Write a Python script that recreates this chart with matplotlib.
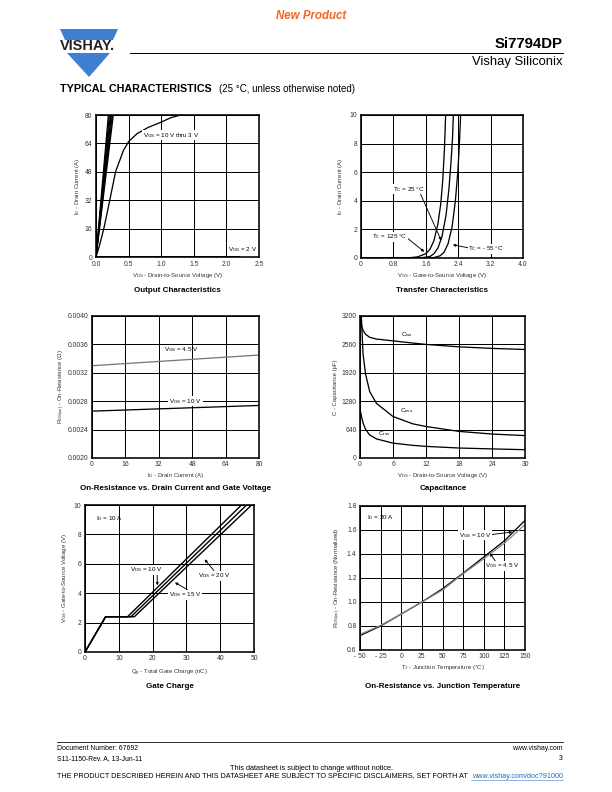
import matplotlib
matplotlib.use("Agg")
import matplotlib.pyplot as plt
from matplotlib.patches import Polygon
from matplotlib.lines import Line2D

plt.rcParams['font.family'] = ['Liberation Sans', 'DejaVu Sans']
plt.rcParams['mathtext.fontset'] = 'custom'
plt.rcParams['mathtext.rm'] = 'Liberation Sans'
plt.rcParams['mathtext.it'] = 'Liberation Sans:italic'

W, H = 612, 792

# ---- data ----
# output characteristics
steep_vds_end = [0.19, 0.205, 0.22, 0.235, 0.25, 0.265]
steep_id = [0, 80]
vds_mid = [0, 0.05, 0.12, 0.2, 0.3, 0.42, 0.5, 0.63, 0.8, 1.0, 1.15, 1.3]
id_mid = [0, 6, 16, 30, 48, 60, 65, 69.5, 73, 76, 78.5, 80]
vds_2v = [0, 2.2]
id_2v = [0.3, 0.3]

# transfer characteristics
vgs_125 = [0, 0.8, 1.2, 1.4, 1.6, 1.7, 1.8, 1.9, 1.97, 2.02, 2.06, 2.09]
id_125 = [0, 0, 0.02, 0.08, 0.3, 0.6, 1.2, 2.4, 3.8, 5.5, 7.6, 10]
vgs_25 = [0, 1.2, 1.5, 1.7, 1.8, 1.9, 2.0, 2.1, 2.17, 2.22, 2.26, 2.28]
id_25 = [0, 0, 0.02, 0.1, 0.3, 0.7, 1.5, 3.0, 4.8, 6.6, 8.4, 10]
vgs_m55 = [0, 1.5, 1.8, 1.95, 2.05, 2.15, 2.25, 2.33, 2.39, 2.43, 2.46]
id_m55 = [0, 0, 0.03, 0.15, 0.4, 1.0, 2.2, 4.0, 6.0, 8.0, 10]

# on-resistance vs drain current
id_ron = [0, 80]
ron_45 = [0.00330, 0.00345]
ron_10 = [0.00266, 0.00274]

# capacitance
vds_c = [0, 0.25, 0.55, 1.0, 1.75, 3, 6, 9.6, 12, 18, 24, 30]
ciss = [3150, 3000, 2880, 2790, 2720, 2680, 2640, 2590, 2560, 2505, 2470, 2445]
coss = [3200, 3180, 2350, 1900, 1500, 1230, 935, 770, 710, 600, 540, 505]
crss = [1100, 950, 790, 650, 520, 430, 335, 285, 262, 225, 205, 187]

# gate charge
qg_10 = [0, 6.1, 12.6, 46.3]
qg_15 = [0, 6.1, 13.6, 47.8]
qg_20 = [0, 6.1, 14.6, 49.3]
vgs_qg = [0, 2.4, 2.4, 10]

# on-resistance vs junction temperature
tj = [-50, -25, 0, 25, 50, 75, 100, 125, 150]
rn_10 = [0.72, 0.80, 0.90, 1.00, 1.11, 1.24, 1.375, 1.51, 1.68]
rn_45 = [0.73, 0.805, 0.90, 1.00, 1.10, 1.235, 1.36, 1.49, 1.645]

fig = plt.figure(figsize=(W / 72, H / 72), dpi=72)


def ftext(x, y, s, **kw):
    fig.text(x / W, 1 - y / H, s, **kw)


def make_ax(l, t, r, b):
    ax = fig.add_axes([l / W, 1 - b / H, (r - l) / W, (b - t) / H])
    ax.grid(True, color='black', lw=1.0)
    ax.set_axisbelow(True)
    for s in ax.spines.values():
        s.set_linewidth(1.6)
    ax.tick_params(length=0, labelsize=6.8, pad=3.5, colors='#333333')
    return ax


lab = dict(fontsize=6, color='#333333')
bold = dict(fontsize=8, weight='bold', ha='center', va='center')
ann = 6.3
wb = dict(fc='white', ec='none', pad=0.5)
arr = dict(arrowstyle='-|>', color='black', lw=0.9, mutation_scale=5)

# ---- 1. output characteristics ----
ax = make_ax(96, 115, 259, 257)
for xe in steep_vds_end:
    ax.plot([0, xe], steep_id, color='black', lw=1.3)
ax.plot(vds_mid, id_mid, color='black', lw=1.3)
ax.plot(vds_2v, id_2v, color='black', lw=1.0)
ax.set_xlim(0, 2.5)
ax.set_ylim(0, 80)
ax.set_xticks([0, 0.5, 1.0, 1.5, 2.0, 2.5])
ax.set_xticklabels(['0.0', '0.5', '1.0', '1.5', '2.0', '2.5'])
ax.set_yticks([0, 16, 32, 48, 64, 80])
ax.set_xlabel('V$_{\\rm DS}$ - Drain-to-Source Voltage (V)', labelpad=3, **lab)
ax.set_ylabel('I$_{\\rm D}$ - Drain Current (A)', labelpad=3, **lab)
ax.text(0.72, 68.5, 'V$_{\\rm GS}$ = 10 V thru 3 V', fontsize=ann, va='center', bbox=wb)
ax.text(2.03, 4.2, 'V$_{\\rm GS}$ = 2 V', fontsize=ann, va='center', bbox=wb)
ftext(177, 290, 'Output Characteristics', **bold)

# ---- 2. transfer characteristics ----
ax = make_ax(361, 115, 523, 258)
ax.plot(vgs_125, id_125, color='black', lw=1.3)
ax.plot(vgs_25, id_25, color='black', lw=1.3)
ax.plot(vgs_m55, id_m55, color='black', lw=1.3)
ax.set_xlim(0, 4.0)
ax.set_ylim(0, 10)
ax.set_xticks([0, 0.8, 1.6, 2.4, 3.2, 4.0])
ax.set_xticklabels(['0', '0.8', '1.6', '2.4', '3.2', '4.0'])
ax.set_yticks([0, 2, 4, 6, 8, 10])
ax.set_xlabel('V$_{\\rm GS}$ - Gate-to-Source Voltage (V)', labelpad=3, **lab)
ax.set_ylabel('I$_{\\rm D}$ - Drain Current (A)', labelpad=5, **lab)
ax.annotate('T$_{\\rm C}$ = 25 °C', xy=(2.0, 1.1), xytext=(0.8, 4.8), fontsize=ann,
            va='center', arrowprops=dict(arr, shrinkA=0, relpos=(0.85, 0)), bbox=wb)
ax.annotate('T$_{\\rm C}$ = 125 °C', xy=(1.6, 0.35), xytext=(0.28, 1.5), fontsize=ann,
            va='center', arrowprops=dict(arr, shrinkA=0, relpos=(1, 0.3)), bbox=wb)
ax.annotate('T$_{\\rm C}$ = - 55 °C', xy=(2.22, 0.95), xytext=(2.65, 0.65), fontsize=ann,
            va='center', arrowprops=dict(arr, shrinkA=0, relpos=(0, 0.6)), bbox=wb)
ftext(442, 290, 'Transfer Characteristics', **bold)

# ---- 3. on-resistance vs drain current ----
ax = make_ax(92, 316, 259, 458)
ax.plot(id_ron, ron_45, color='#777777', lw=1.3)
ax.plot(id_ron, ron_10, color='black', lw=1.3)
ax.set_xlim(0, 80)
ax.set_ylim(0.0020, 0.0040)
ax.set_xticks([0, 16, 32, 48, 64, 80])
ax.set_yticks([0.0020, 0.0024, 0.0028, 0.0032, 0.0036, 0.0040])
ax.set_yticklabels(['0.0020', '0.0024', '0.0028', '0.0032', '0.0036', '0.0040'])
ax.set_xlabel('I$_{\\rm D}$ - Drain Current (A)', labelpad=3, **lab)
ax.set_ylabel('R$_{\\rm DS(on)}$ - On-Resistance (Ω)', labelpad=1, **lab)
ax.text(34.5, 0.00353, 'V$_{\\rm GS}$ = 4.5 V', fontsize=ann, va='center')
ax.text(37, 0.00280, 'V$_{\\rm GS}$ = 10 V', fontsize=ann, va='center',
        bbox=dict(fc='white', ec='none', pad=0.8))
ftext(176, 488, 'On-Resistance vs. Drain Current and Gate Voltage', **bold)

# ---- 4. capacitance ----
ax = make_ax(360, 316, 525, 458)
ax.plot(vds_c, ciss, color='black', lw=1.3)
ax.plot(vds_c, coss, color='black', lw=1.3)
ax.plot(vds_c, crss, color='black', lw=1.3)
ax.set_xlim(0, 30)
ax.set_ylim(0, 3200)
ax.set_xticks([0, 6, 12, 18, 24, 30])
ax.set_yticks([0, 640, 1280, 1920, 2560, 3200])
ax.set_xlabel('V$_{\\rm DS}$ - Drain-to-Source Voltage (V)', labelpad=3, **lab)
ax.set_ylabel('C - Capacitance (pF)', labelpad=3, **lab)
ax.text(7.5, 2790, 'C$_{\\rm iss}$', fontsize=ann, va='center')
ax.text(7.2, 1060, 'C$_{\\rm oss}$', fontsize=ann, va='center')
ax.text(3.2, 550, 'C$_{\\rm rss}$', fontsize=ann, va='center')
ftext(443, 488, 'Capacitance', **bold)

# ---- 5. gate charge ----
ax = make_ax(85, 505, 254, 652)
for q in (qg_10, qg_15, qg_20):
    ax.plot(q, vgs_qg, color='black', lw=1.4, solid_joinstyle='miter')
ax.set_xlim(0, 50)
ax.set_ylim(0, 10)
ax.set_xticks([0, 10, 20, 30, 40, 50])
ax.set_yticks([0, 2, 4, 6, 8, 10])
ax.set_xlabel('Q$_{\\rm g}$ - Total Gate Charge (nC)', labelpad=5, **lab)
ax.set_ylabel('V$_{\\rm GS}$ - Gate-to-Source Voltage (V)', labelpad=5, **lab)
ax.text(3.2, 9.1, 'I$_{\\rm D}$ = 10 A', fontsize=ann, va='center')
ax.annotate('V$_{\\rm DS}$ = 10 V', xy=(21.4, 4.4), xytext=(13.2, 5.6), fontsize=ann,
            va='center', arrowprops=dict(arr, shrinkA=0, relpos=(0.85, 0)), bbox=wb)
ax.annotate('V$_{\\rm DS}$ = 20 V', xy=(35.0, 6.4), xytext=(33.5, 5.2), fontsize=ann,
            va='center', arrowprops=dict(arr, shrinkA=0, relpos=(0.5, 1)), bbox=wb)
ax.annotate('V$_{\\rm DS}$ = 15 V', xy=(26.1, 4.8), xytext=(24.8, 3.9), fontsize=ann,
            va='center', arrowprops=dict(arr, shrinkA=0, relpos=(0.6, 1)), bbox=wb)
ftext(170, 686, 'Gate Charge', **bold)

# ---- 6. on-resistance vs junction temperature ----
ax = make_ax(360, 506, 525, 650)
ax.plot(tj, rn_10, color='black', lw=1.3)
ax.plot(tj, rn_45, color='#888888', lw=1.3)
ax.set_xlim(-50, 150)
ax.set_ylim(0.6, 1.8)
ax.set_xticks([-50, -25, 0, 25, 50, 75, 100, 125, 150])
ax.set_xticklabels(['- 50', '- 25', '0', '25', '50', '75', '100', '125', '150'])
ax.set_yticks([0.6, 0.8, 1.0, 1.2, 1.4, 1.6, 1.8])
ax.set_xlabel('T$_{\\rm J}$ - Junction Temperature (°C)', labelpad=3, **lab)
ax.set_ylabel('R$_{\\rm DS(on)}$ - On-Resistance (Normalized)', labelpad=4, **lab)
ax.text(-42, 1.70, 'I$_{\\rm D}$ = 20 A', fontsize=ann, va='center')
ax.annotate('V$_{\\rm GS}$ = 10 V', xy=(137, 1.585), xytext=(70, 1.555), fontsize=ann,
            va='center', arrowprops=dict(arr, shrinkA=0, relpos=(1, 0.6)), bbox=wb)
ax.annotate('V$_{\\rm GS}$ = 4.5 V', xy=(106, 1.42), xytext=(102, 1.30), fontsize=ann,
            va='center', arrowprops=dict(arr, shrinkA=0, relpos=(0.3, 1)), bbox=wb)
ftext(443, 686, 'On-Resistance vs. Junction Temperature', **bold)

# ---- header ----
ftext(311, 16, 'New Product', fontsize=11.5, weight='bold', style='italic',
      color='#f26522', ha='center', va='center')
blue = '#3f7fd1'
fig.patches.append(Polygon([(60 / W, 1 - 29 / H), (118 / W, 1 - 29 / H),
                            (113 / W, 1 - 40 / H), (65 / W, 1 - 40 / H)],
                           closed=True, fc=blue, ec='none', transform=fig.transFigure))
fig.patches.append(Polygon([(67 / W, 1 - 53 / H), (110 / W, 1 - 53 / H),
                            (89 / W, 1 - 77 / H)],
                           closed=True, fc=blue, ec='none', transform=fig.transFigure))
ftext(87.5, 46.5, 'VISHAY.', fontsize=14.5, weight='bold', color='#222222',
      ha='center', va='center')
fig.lines.append(Line2D([130 / W, 563 / W], [1 - 53 / H, 1 - 53 / H], color='black',
                        lw=1.0, transform=fig.transFigure))
ftext(563, 44, 'Si7794DP', fontsize=15, weight='bold', ha='right', va='center')
ftext(563, 62, 'Vishay Siliconix', fontsize=13, ha='right', va='center')
ftext(60, 89, 'TYPICAL CHARACTERISTICS', fontsize=10.8, weight='bold', va='center')
ftext(219, 89, '(25 °C, unless otherwise noted)', fontsize=9.7, va='center')

# ---- footer ----
fig.lines.append(Line2D([57 / W, 563 / W], [1 - 742 / H, 1 - 742 / H], color='black',
                        lw=0.8, transform=fig.transFigure))
ftext(57, 748, 'Document Number: 67692', fontsize=6.9, va='center')
ftext(57, 759, 'S11-1150-Rev. A, 13-Jun-11', fontsize=6.9, va='center')
ftext(563, 748, 'www.vishay.com', fontsize=6.9, ha='right', va='center')
ftext(563, 759, '3', fontsize=6.9, ha='right', va='center')
ftext(311, 768, 'This datasheet is subject to change without notice.', fontsize=7.4,
      ha='center', va='center')
ftext(57, 776, 'THE PRODUCT DESCRIBED HEREIN AND THIS DATASHEET ARE SUBJECT TO '
      'SPECIFIC DISCLAIMERS, SET FORTH AT', fontsize=7.2, va='center')
ftext(563, 776, 'www.vishay.com/doc?91000', fontsize=7.2, ha='right', va='center',
      color='#1f6fc5')
fig.lines.append(Line2D([471 / W, 563 / W], [1 - 780 / H, 1 - 780 / H],
                        color='#1f6fc5', lw=0.5, transform=fig.transFigure))

fig.savefig('out.png', dpi=72)
